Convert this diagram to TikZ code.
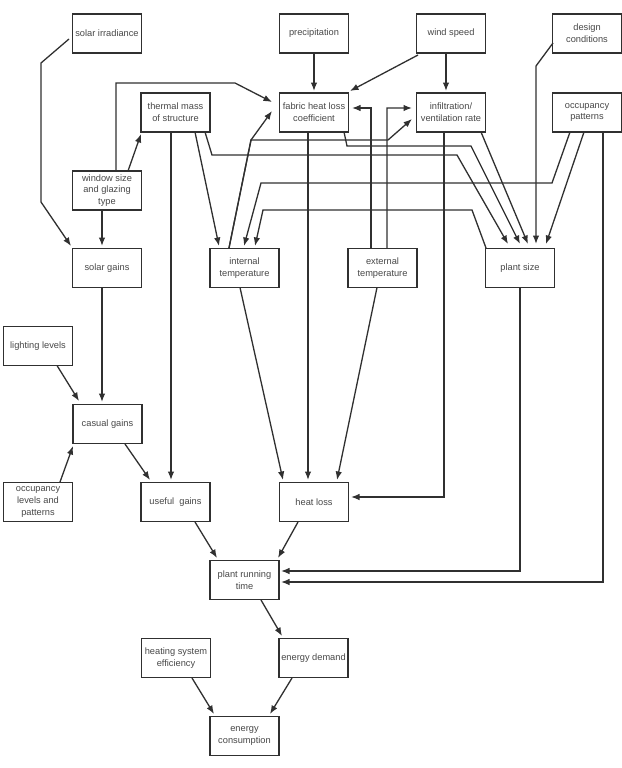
\documentclass[tikz,border=0pt]{standalone}
\usepackage{fontspec}
\setmainfont{Liberation Sans}
\usetikzlibrary{arrows.meta}
\definecolor{lncol}{HTML}{303030}
\definecolor{txcol}{HTML}{484848}
\begin{document}
\begin{tikzpicture}[x=1bp,y=-1bp,
  box/.style={draw=lncol, line width=1.4bp, minimum width=69bp, minimum height=39bp, inner sep=1bp, align=center, text=txcol, font=\fontsize{9.3}{11.7}\selectfont},
  arr/.style={draw=lncol, line width=1.3bp, -{Latex[length=8.5bp,width=6.5bp]}}]
\useasboundingbox[fill=white] (0,0) rectangle (622,768);
% row 1
\node[box] (sirr) at (107,33.5) {solar irradiance};
\node[box] (prec) at (314,33.5) {precipitation};
\node[box] (wind) at (451,33.5) {wind speed};
\node[box] (design) at (587,33.5) {design\\conditions};
% row 2
\node[box] (therm) at (175.5,112.5) {thermal mass\\of structure};
\node[box] (fabric) at (314,112.5) {fabric heat loss\\coefficient};
\node[box] (infil) at (451,112.5) {infiltration/\\ventilation rate};
\node[box] (occpat) at (587,112.5) {occupancy\\patterns};
% row 3
\node[box] (window) at (107,190.5) {window size\\and glazing\\type};
% row 4
\node[box] (solarg) at (107,268) {solar gains};
\node[box] (intT) at (244.5,268) {internal\\temperature};
\node[box] (extT) at (382.5,268) {external\\temperature};
\node[box] (psize) at (520,268) {plant size};
% rows 5-7
\node[box] (light) at (38,346) {lighting levels};
\node[box] (casual) at (107.5,424) {casual gains};
\node[box] (occlev) at (38,502) {occupancy\\levels and\\patterns};
\node[box] (useful) at (175.5,502) {useful\ \ gains};
\node[box] (hloss) at (314,502) {heat loss};
% rows 8-10
\node[box] (prt) at (244.5,580) {plant running\\time};
\node[box] (hse) at (176,658) {heating system\\efficiency};
\node[box] (edem) at (313.5,658) {energy demand};
\node[box] (econs) at (244.5,736) {energy\\consumption};

% connectors
\draw[arr] ([shift={(-38,5.5)}]sirr.center) -- (41,63) -- (41,202) -- ([shift={(-36,-22)}]solarg.center);
\draw[arr] ([shift={(-5,19.5)}]window.center) -- ([shift={(-5,-22)}]solarg.center);
\draw[arr] ([shift={(21,-19.5)}]window.center) -- ([shift={(-34.5,21.5)}]therm.center);
\draw[arr] ([shift={(9,-19.5)}]window.center) -- (116,83) -- (235,83) -- ([shift={(-42,-10.5)}]fabric.center);
\draw[arr] ([shift={(0,19.5)}]prec.center) -- ([shift={(0,-21.5)}]fabric.center);
\draw[arr] ([shift={(-33,21.5)}]wind.center) -- ([shift={(36,-21.5)}]fabric.center);
\draw[arr] ([shift={(-5,19.5)}]wind.center) -- ([shift={(-5,-21.5)}]infil.center);
\draw[arr] ([shift={(19.5,19.5)}]therm.center) -- ([shift={(-25.5,-22)}]intT.center);
\draw[arr] ([shift={(-4.5,19.5)}]therm.center) -- ([shift={(-4.5,-22)}]useful.center);
\draw[arr] ([shift={(29.5,19.5)}]therm.center) -- (212,155) -- (457,155) -- ([shift={(-12,-24)}]psize.center);
\draw[arr] ([shift={(30,19.5)}]fabric.center) -- (347,146) -- (471,146) -- ([shift={(0,-24)}]psize.center);
\draw[arr] ([shift={(30,19.5)}]infil.center) -- ([shift={(8,-24)}]psize.center);
\draw[arr] ([shift={(-34,9.5)}]design.center) -- (536,66) -- ([shift={(16,-24)}]psize.center);
\draw[arr] ([shift={(-3,19.5)}]occpat.center) -- ([shift={(26,-24)}]psize.center);
\draw[arr] ([shift={(-17,19.5)}]occpat.center) -- (552,183) -- (261,183) -- ([shift={(-0.5,-22)}]intT.center);
\draw[arr] ([shift={(-34,-20)}]psize.center) -- (472,210) -- (263,210) -- ([shift={(10.5,-22)}]intT.center);
\draw[arr] ([shift={(-15.5,-20)}]intT.center) -- (251,140) -- ([shift={(-42,-1.5)}]fabric.center);
\draw[arr] ([shift={(-15.5,-20)}]intT.center) -- (251,140) -- (388,140) -- ([shift={(-39,6.5)}]infil.center);
\draw[arr] ([shift={(-11.5,-20)}]extT.center) -- (371,108) -- ([shift={(38,-4.5)}]fabric.center);
\draw[arr] ([shift={(4.5,-20)}]extT.center) -- (387,108) -- ([shift={(-39,-4.5)}]infil.center);
\draw[arr] ([shift={(16,19.5)}]occpat.center) -- (603,582) -- ([shift={(36.5,2)}]prt.center);
\draw[arr] ([shift={(0,20)}]psize.center) -- (520,571) -- ([shift={(36.5,-9)}]prt.center);
\draw[arr] ([shift={(-7,19.5)}]infil.center) -- (444,497) -- ([shift={(37,-5)}]hloss.center);
\draw[arr] ([shift={(-6,19.5)}]fabric.center) -- ([shift={(-6,-22)}]hloss.center);
\draw[arr] ([shift={(-5.5,19.5)}]extT.center) -- ([shift={(23,-22)}]hloss.center);
\draw[arr] ([shift={(-4.5,19.5)}]intT.center) -- ([shift={(-31,-22)}]hloss.center);
\draw[arr] ([shift={(-5,19.5)}]solarg.center) -- ([shift={(-5.5,-22)}]casual.center);
\draw[arr] ([shift={(19,19.5)}]light.center) -- ([shift={(-28.5,-23)}]casual.center);
\draw[arr] ([shift={(22,-20)}]occlev.center) -- ([shift={(-34.5,22)}]casual.center);
\draw[arr] ([shift={(17.5,20)}]casual.center) -- ([shift={(-25.5,-22)}]useful.center);
\draw[arr] ([shift={(19.5,20)}]useful.center) -- ([shift={(-27.5,-22)}]prt.center);
\draw[arr] ([shift={(-16,20)}]hloss.center) -- ([shift={(33.5,-22)}]prt.center);
\draw[arr] ([shift={(16.5,20)}]prt.center) -- ([shift={(-31.5,-22)}]edem.center);
\draw[arr] ([shift={(16,20)}]hse.center) -- ([shift={(-30.5,-22)}]econs.center);
\draw[arr] ([shift={(-21.5,20)}]edem.center) -- ([shift={(25.5,-22)}]econs.center);
\end{tikzpicture}
\end{document}
